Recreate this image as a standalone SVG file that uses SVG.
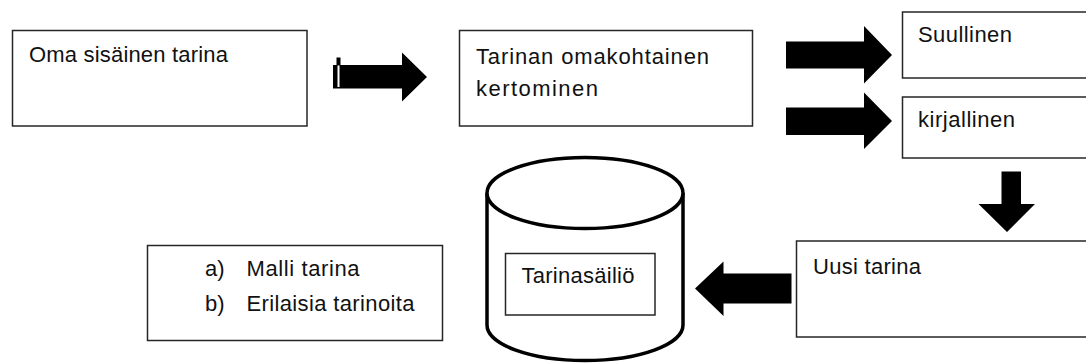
<svg xmlns="http://www.w3.org/2000/svg" width="1086" height="363" viewBox="0 0 1086 363">
<style>
.box{fill:#fff;stroke:#262626;stroke-width:1.5}
.cyl{fill:#fff;stroke:#000;stroke-width:3.5}
.arr{fill:#000;stroke:none}
text{font-family:"Liberation Sans",Arial,sans-serif;font-size:22px;fill:#111}
</style>
<rect width="1086" height="363" fill="#fff"/>
<g id="node-oma">
<rect class="box" x="12.5" y="30.5" width="294.5" height="95.5"/>
<text x="29" y="61.5" textLength="199" lengthAdjust="spacing">Oma sisäinen tarina</text>
</g>
<g id="node-kertominen">
<rect class="box" x="459.5" y="30.5" width="293" height="95.5"/>
<text x="476" y="63.5" textLength="233" lengthAdjust="spacing">Tarinan omakohtainen</text>
<text x="476" y="95.5" textLength="122" lengthAdjust="spacing">kertominen</text>
</g>
<g id="node-suullinen">
<rect class="box" x="902.5" y="12" width="190" height="66"/>
<text x="918" y="41.5" textLength="94" lengthAdjust="spacing">Suullinen</text>
</g>
<g id="node-kirjallinen">
<rect class="box" x="902.5" y="97" width="190" height="61"/>
<text x="918" y="126.5" textLength="97" lengthAdjust="spacing">kirjallinen</text>
</g>
<g id="node-uusi">
<rect class="box" x="796.5" y="241" width="300" height="96"/>
<text x="813" y="273.5" textLength="108" lengthAdjust="spacing">Uusi tarina</text>
</g>
<g id="node-lista">
<rect class="box" x="147.5" y="245.5" width="295" height="95"/>
<text x="205" y="276">a)</text>
<text x="246.5" y="276" textLength="113" lengthAdjust="spacing">Malli tarina</text>
<text x="205" y="310.5">b)</text>
<text x="246.5" y="310.5" textLength="168" lengthAdjust="spacing">Erilaisia  tarinoita</text>
</g>
<g id="node-sailio">
<path class="cyl" d="M487,193 L487,325 A98,35.5 0 0 0 683,325 L683,193"/>
<ellipse class="cyl" cx="585" cy="193" rx="98" ry="35.5"/>
<rect class="box" x="505.5" y="253.5" width="149.5" height="61.5"/>
<text x="521.5" y="282.5" textLength="113" lengthAdjust="spacing">Tarinasäiliö</text>
</g>
<g id="connectors">
<polygon class="arr" points="333,65 402,65 402,52.5 427,77 402,101.5 402,88.5 333,88.5"/>
<rect x="336.5" y="57.5" width="4" height="8" fill="#000"/>
<rect x="337.5" y="65.5" width="2" height="21.5" fill="#fff"/>
<polygon class="arr" points="786,41.5 864,41.5 864,26 892,55 864,83.5 864,68.5 786,68.5"/>
<polygon class="arr" points="786,107.5 864,107.5 864,92.5 892,121 864,149 864,135 786,135"/>
<polygon class="arr" points="1001.5,171.5 1021,171.5 1021,204 1035,204 1007,232 978.5,204 1001.5,204"/>
<polygon class="arr" points="791.5,273.5 723.5,273.5 723.5,261.5 695,288.5 723.5,316 723.5,303.5 791.5,303.5"/>
</g>
</svg>
